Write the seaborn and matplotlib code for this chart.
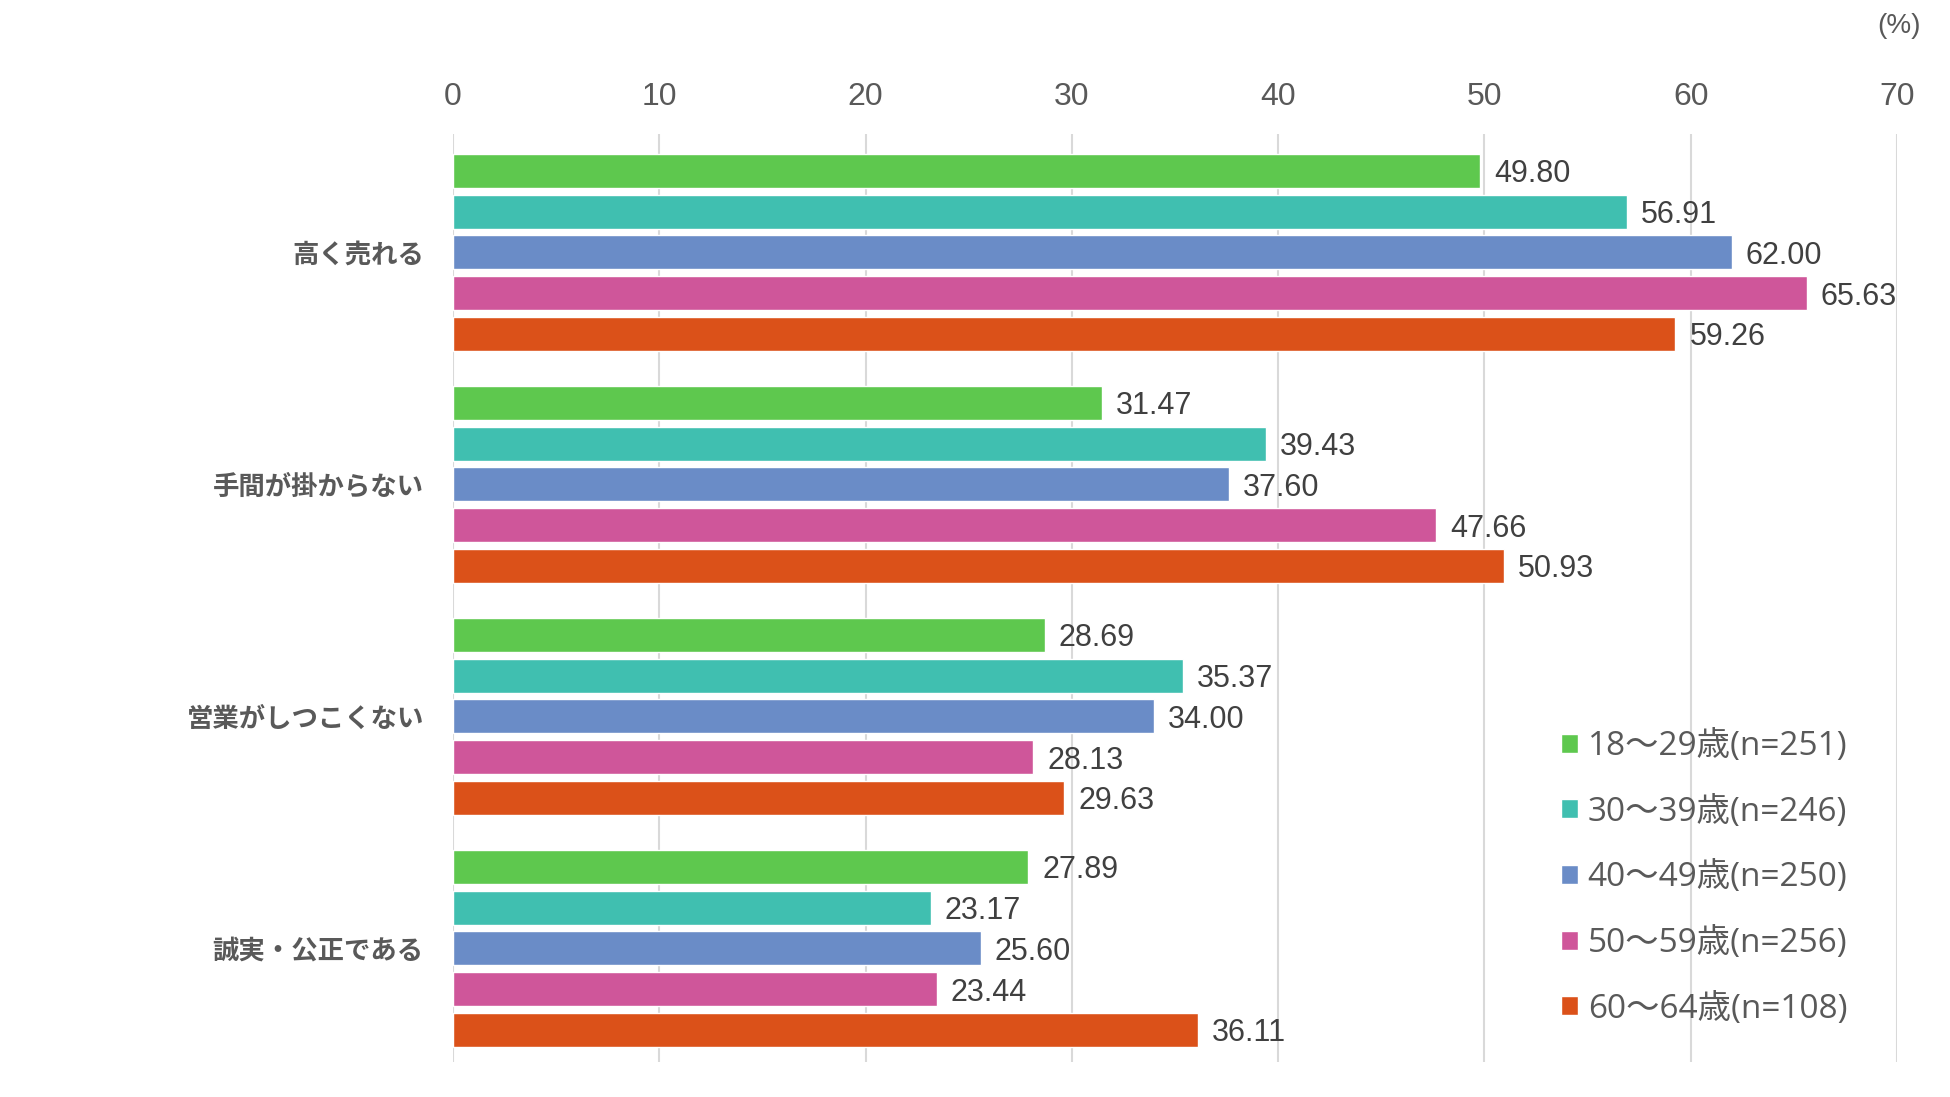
import matplotlib
matplotlib.use("Agg")
import matplotlib.pyplot as plt
import seaborn as sns
import pandas as pd

categories = ["高く売れる", "手間が掛からない", "営業がしつこくない", "誠実・公正である"]
groups = ["18〜29歳(n=251)", "30〜39歳(n=246)", "40〜49歳(n=250)", "50〜59歳(n=256)", "60〜64歳(n=108)"]
v_18_29 = [49.80, 31.47, 28.69, 27.89]
v_30_39 = [56.91, 39.43, 35.37, 23.17]
v_40_49 = [62.00, 37.60, 34.00, 25.60]
v_50_59 = [65.63, 47.66, 28.13, 23.44]
v_60_64 = [59.26, 50.93, 29.63, 36.11]
x_ticks = [0, 10, 20, 30, 40, 50, 60, 70]
colors = ["#5EC84E", "#40BFB0", "#6A8CC7", "#CF569A", "#DB5119"]

series = [v_18_29, v_30_39, v_40_49, v_50_59, v_60_64]
rows = []
for g, vals in zip(groups, series):
    for c, v in zip(categories, vals):
        rows.append({"category": c, "group": g, "value": v})
df = pd.DataFrame(rows)

sns.set_theme(style="white")
plt.rcParams['font.family'] = ['Liberation Sans', 'Noto Sans CJK JP', 'DejaVu Sans']

W, H = 1950, 1097
fig = plt.figure(figsize=(19.5, 10.97), dpi=100)
ax = fig.add_axes([453/W, (H-1062)/H, (1897-453)/W, (1062-134)/H])

sns.barplot(data=df, y="category", x="value", hue="group", order=categories,
            hue_order=groups, palette=colors, orient="h", width=0.877, gap=0.165,
            saturation=1, ax=ax, legend=True)

for cont in ax.containers:
    labs = ax.bar_label(cont, fmt="%.2f", padding=10, fontsize=22, color="#404040")
    for t in labs:
        t.set_va("center_baseline")

ax.set_xlim(0, 70)
ax.set_ylim(3.49, -0.51)
ax.set_xticks(x_ticks)
ax.xaxis.tick_top()
ax.tick_params(axis="x", labelsize=23, labelcolor="#595959", length=0, pad=16)
ax.tick_params(axis="y", length=0, pad=21)
for lab in ax.get_yticklabels():
    lab.set_fontfamily(['Noto Sans CJK JP', 'DejaVu Sans'])
    lab.set_fontweight('bold')
    lab.set_fontsize(19)
    lab.set_color("#595959")
ax.set_xlabel("")
ax.set_ylabel("")
ax.grid(axis="x", color="#D9D9D9", linewidth=1.5)
ax.set_axisbelow(True)
for s in ax.spines.values():
    s.set_visible(False)

handles, labels = ax.get_legend_handles_labels()
ax.legend(handles, labels, loc="upper left", bbox_to_anchor=(1561/W, 1 - 730/H),
          bbox_transform=fig.transFigure, frameon=False,
          handlelength=0.5, handleheight=0.5, handletextpad=0.3, labelspacing=0.98,
          borderaxespad=0, borderpad=0, labelcolor="#595959",
          prop={'family': ['Open Sans', 'Noto Sans CJK JP', 'DejaVu Sans'], 'size': 24})

fig.text(1899/W, 1 - 26/H, "(%)", ha="center", va="center", fontsize=20, color="#595959")

fig.savefig("out.png", dpi=100)
